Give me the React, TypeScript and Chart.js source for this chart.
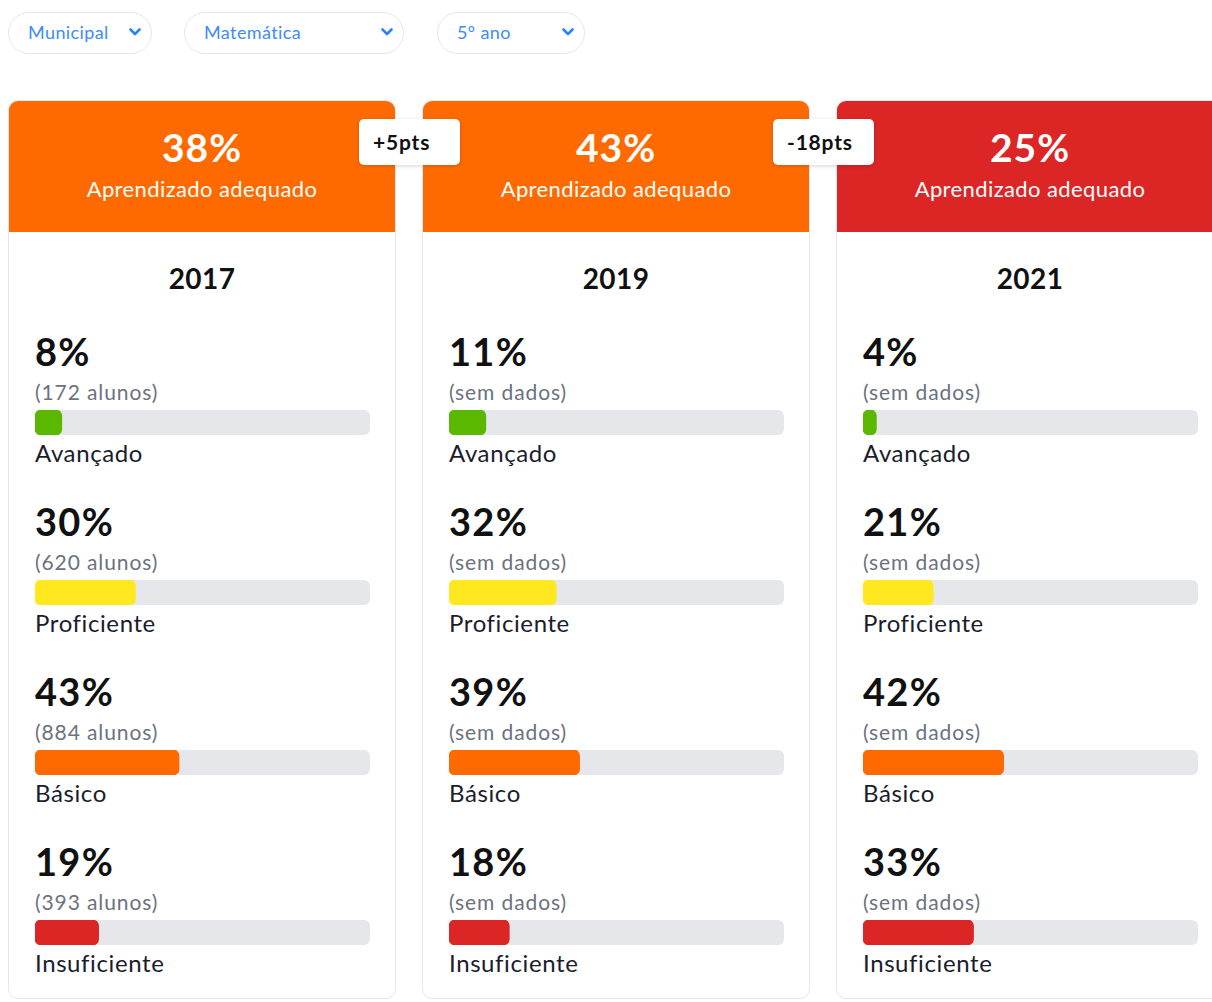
import React, { useEffect, useRef } from "react";
import { Chart, registerables } from "chart.js";

Chart.register(...registerables);

// ---- Data ----
const filters = ["Municipal", "Matemática", "5º ano"];
const years = ["2017", "2019", "2021"];
const adequado = [38, 43, 25];
const variacao = ["+5pts", "-18pts"];
const levels = ["Avançado", "Proficiente", "Básico", "Insuficiente"];
const pct2017 = [8, 30, 43, 19];
const pct2019 = [11, 32, 39, 18];
const pct2021 = [4, 21, 42, 33];
const alunos2017: (number | null)[] = [172, 620, 884, 393];
const alunos2019: (number | null)[] = [null, null, null, null];
const alunos2021: (number | null)[] = [null, null, null, null];

// ---- Styles ----
const FONT = "Lato, 'Noto Sans', sans-serif";
const levelColors = ["#5ab800", "#ffe81f", "#ff6a00", "#dc2626"];
const headerColors = ["#ff6a00", "#ff6a00", "#dc2626"];
const TRACK = "#e5e7eb";

const pctByYear = [pct2017, pct2019, pct2021];
const alunosByYear = [alunos2017, alunos2019, alunos2021];

const trackPlugin = {
  id: "track",
  beforeDatasetsDraw(chart: any) {
    const { ctx, chartArea } = chart;
    const { left, top, width, height } = chartArea;
    ctx.save();
    ctx.fillStyle = TRACK;
    ctx.beginPath();
    (ctx as any).roundRect(left, top, width, height, 6);
    ctx.fill();
    ctx.restore();
  },
};

function ProgressBar({ value, color, label }: { value: number; color: string; label: string }) {
  const ref = useRef<HTMLCanvasElement | null>(null);
  useEffect(() => {
    if (!ref.current) return;
    const chart = new Chart(ref.current, {
      type: "bar",
      data: {
        labels: [label],
        datasets: [
          {
            data: [value],
            backgroundColor: color,
            borderRadius: 6,
            borderSkipped: false,
            barPercentage: 1,
            categoryPercentage: 1,
          },
        ],
      },
      options: {
        indexAxis: "y",
        animation: false,
        responsive: false,
        events: [],
        layout: { padding: 0 },
        plugins: { legend: { display: false }, tooltip: { enabled: false } },
        scales: {
          x: { display: false, min: 0, max: 100 },
          y: { display: false },
        },
      },
      plugins: [trackPlugin],
    } as any);
    return () => chart.destroy();
  }, [value, color, label]);
  return <canvas ref={ref} width={335} height={25} style={{ display: "block", width: 335, height: 25 }} />;
}

function Chevron() {
  return (
    <svg width="12" height="8" viewBox="0 0 12 8" style={{ display: "block" }}>
      <polyline points="1.5,1.5 6,6 10.5,1.5" fill="none" stroke="#2f80ff" strokeWidth="2.6" strokeLinecap="round" strokeLinejoin="round" />
    </svg>
  );
}

const filterBoxes = [
  { left: 8, width: 144 },
  { left: 184, width: 220 },
  { left: 437, width: 148 },
];

function Card({ idx }: { idx: number }) {
  const left = 8 + idx * 414;
  const pcts = pctByYear[idx];
  const alunos = alunosByYear[idx];
  return (
    <div
      style={{
        position: "absolute",
        left,
        top: 100,
        width: 388,
        height: 899,
        boxSizing: "border-box",
        border: "1px solid #e5e7eb",
        borderRadius: 10,
        background: "#fff",
        overflow: "hidden",
      }}
    >
      <div
        style={{
          position: "absolute",
          left: -1,
          top: -1,
          width: 388,
          height: 132,
          background: headerColors[idx],
          borderRadius: "10px 10px 0 0",
          color: "#fff",
          textAlign: "center",
        }}
      >
        <div style={{ position: "absolute", left: 0, right: 0, top: 47 - 22, height: 44, lineHeight: "44px", fontSize: 39, fontWeight: 700, letterSpacing: 1 }}>
          {adequado[idx]}%
        </div>
        <div style={{ position: "absolute", left: 0, right: 0, top: 89 - 14, height: 28, lineHeight: "28px", fontSize: 22, letterSpacing: 0.4 }}>
          Aprendizado adequado
        </div>
      </div>
      <div
        style={{
          position: "absolute",
          left: 0,
          right: 0,
          top: 177 - 18,
          height: 36,
          lineHeight: "36px",
          textAlign: "center",
          fontSize: 28,
          fontWeight: 700,
          color: "#111",
          letterSpacing: 0.4,
        }}
      >
        {years[idx]}
      </div>
      {levels.map((lv, i) => {
        const base = 170 * i;
        const count = alunos[i];
        return (
          <React.Fragment key={lv}>
            <div style={{ position: "absolute", left: 26, top: base + 250 - 22, height: 44, lineHeight: "44px", fontSize: 38, fontWeight: 700, color: "#111", letterSpacing: 1.3 }}>
              {pcts[i]}%
            </div>
            <div style={{ position: "absolute", left: 26, top: base + 291 - 13, height: 26, lineHeight: "26px", fontSize: 21, color: "#6b7280", letterSpacing: 0.9 }}>
              {count === null ? "(sem dados)" : `(${count} alunos)`}
            </div>
            <div style={{ position: "absolute", left: 26, top: base + 309 }}>
              <ProgressBar value={pcts[i]} color={levelColors[i]} label={lv} />
            </div>
            <div style={{ position: "absolute", left: 26, top: base + 352 - 14, height: 28, lineHeight: "28px", fontSize: 24, color: "#1a1d2e", letterSpacing: 0.6 }}>
              {lv}
            </div>
          </React.Fragment>
        );
      })}
    </div>
  );
}

export default function App() {
  useEffect(() => {
    document.body.style.margin = "0";
  }, []);
  return (
    <div
      style={{
        position: "fixed",
        left: 0,
        top: 0,
        width: 1212,
        height: 1002,
        overflow: "hidden",
        background: "#fff",
        fontFamily: FONT,
      }}
    >
      {filters.map((f, i) => (
        <div
          key={f}
          style={{
            position: "absolute",
            left: filterBoxes[i].left,
            top: 12,
            width: filterBoxes[i].width,
            height: 42,
            boxSizing: "border-box",
            border: "1px solid #e5e7eb",
            borderRadius: 21,
            display: "flex",
            alignItems: "center",
            justifyContent: "space-between",
            padding: "0 10px 3px 19px",
            color: "#3d8bfd",
            fontSize: 18,
            letterSpacing: 0.4,
          }}
        >
          <span>{f}</span>
          <Chevron />
        </div>
      ))}
      {years.map((y, i) => (
        <Card key={y} idx={i} />
      ))}
      {variacao.map((v, i) => (
        <div
          key={v}
          style={{
            position: "absolute",
            left: 359 + i * 414,
            top: 119,
            width: 101,
            height: 46,
            boxSizing: "border-box",
            background: "#fff",
            borderRadius: 5,
            boxShadow: "0 1px 4px rgba(0,0,0,0.18)",
            display: "flex",
            alignItems: "center",
            justifyContent: "flex-start",
            paddingLeft: 14,
            paddingBottom: 2,
            fontSize: 21,
            fontWeight: 700,
            letterSpacing: 0.8,
            color: "#111",
            zIndex: 2,
          }}
        >
          {v}
        </div>
      ))}
    </div>
  );
}
